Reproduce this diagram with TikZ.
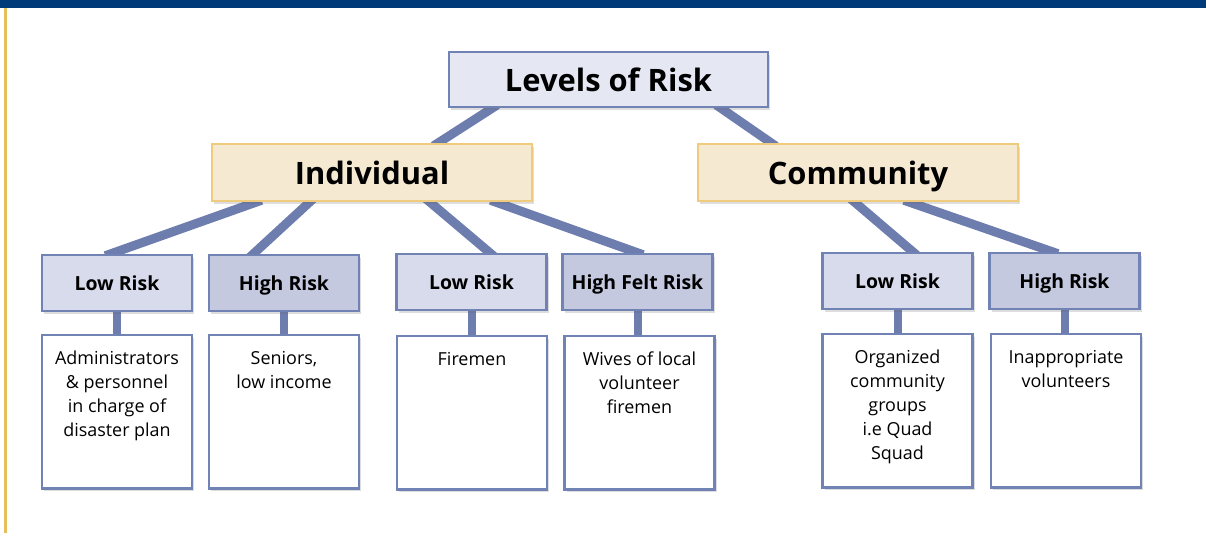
\documentclass[tikz,border=0pt]{standalone}
\usepackage{fontspec}
\setmainfont{Open Sans}
\usetikzlibrary{calc,shadows}
\definecolor{topbar}{HTML}{003A78}
\definecolor{goldline}{HTML}{E6BE5A}
\definecolor{conn}{HTML}{6D7DAE}
\definecolor{bluebd}{HTML}{7182B5}
\definecolor{topfill}{HTML}{E5E8F3}
\definecolor{lowfill}{HTML}{D8DBEB}
\definecolor{highfill}{HTML}{C4C9DF}
\definecolor{beige}{HTML}{F6E9D2}
\definecolor{beigebd}{HTML}{EFCB7E}
\pgfdeclarelayer{bg}
\pgfsetlayers{bg,main}
\tikzset{
  shad/.style={drop shadow={shadow xshift=2bp,shadow yshift=-3bp,opacity=0.22,fill=black!60}},
  topbox/.style={shad,draw=bluebd,line width=2.5bp,fill=topfill,inner sep=0pt,
    minimum width=319bp,minimum height=55bp,text height=25bp,text depth=0pt,
    font=\fontsize{31}{36}\selectfont\bfseries},
  midbox/.style={shad,draw=beigebd,line width=2.5bp,fill=beige,inner sep=0pt,
    minimum width=320bp,minimum height=57bp,text height=25bp,text depth=0pt,
    font=\fontsize{31}{36}\selectfont\bfseries},
  riskbox/.style={shad,draw=bluebd,line width=2.5bp,inner sep=0pt,
    minimum width=150bp,minimum height=56bp,text height=16bp,text depth=0pt,
    font=\fontsize{19.5}{22}\selectfont\bfseries},
  lowbox/.style={riskbox,fill=lowfill},
  highbox/.style={riskbox,fill=highfill},
  leafbox/.style={shad,draw=bluebd,line width=2.5bp,fill=white,inner sep=0pt,anchor=north,
    font=\fontsize{18}{24}\selectfont},
  link/.style={draw=conn,line width=9bp,shorten <=-6bp,shorten >=-6bp},
  stub/.style={draw=conn,line width=8bp}
}
\newcommand\leaftext[1]{\parbox[t][153bp][t]{150bp}{\centering\vspace*{16bp}#1}}
\begin{document}
\begin{tikzpicture}[x=1bp,y=-1bp]
\useasboundingbox (0,0) rectangle (1206,533);
\fill[topbar] (0,0) rectangle (1206,8);
\fill[goldline] (4,8) rectangle (6.5,533);

\node[topbox] (lev) at (608.5,79.5) {Levels of Risk};
\node[midbox] (ind) at (372,172.5) {Individual};
\node[midbox] (com) at (858,172.5) {Community};

\node[lowbox]  (r1) at (117,283) {Low Risk};
\node[highbox] (r2) at (284,283) {High Risk};
\node[lowbox]  (r3) at (471.5,282) {Low Risk};
\node[highbox] (r4) at (637.5,282) {High Felt Risk};
\node[lowbox]  (r5) at (897.5,281) {Low Risk};
\node[highbox] (r6) at (1064.5,281) {High Risk};

\node[leafbox] (l1) at (117,334) {\leaftext{Administrators\\ \& personnel\\ in charge of\\ disaster plan}};
\node[leafbox] (l2) at (284,334) {\leaftext{Seniors,\\ low income}};
\node[leafbox] (l3) at (472,335) {\leaftext{Firemen}};
\node[leafbox] (l4) at (639.5,335) {\leaftext{Wives of local\\ volunteer\\ firemen}};
\node[leafbox] (l5) at (897.5,333) {\leaftext{Organized\\ community\\ groups\\ i.e Quad\\ Squad}};
\node[leafbox] (l6) at (1066,333) {\leaftext{Inappropriate\\ volunteers}};

\begin{pgfonlayer}{bg}
\draw[link] ($(lev.south west)!0.138!(lev.south east)$) -- ($(ind.north west)!0.706!(ind.north east)$);
\draw[link] ($(lev.south west)!0.85!(lev.south east)$) -- ($(com.north west)!0.23!(com.north east)$);
\draw[link] ($(ind.south west)!0.14!(ind.south east)$) -- ($(r1.north west)!0.46!(r1.north east)$);
\draw[link] ($(ind.south west)!0.306!(ind.south east)$) -- ($(r2.north west)!0.30!(r2.north east)$);
\draw[link] ($(ind.south west)!0.68!(ind.south east)$) -- ($(r3.north west)!0.62!(r3.north east)$);
\draw[link] ($(ind.south west)!0.885!(ind.south east)$) -- ($(r4.north west)!0.50!(r4.north east)$);
\draw[link] ($(com.south west)!0.49!(com.south east)$) -- ($(r5.north west)!0.60!(r5.north east)$);
\draw[link] ($(com.south west)!0.66!(com.south east)$) -- ($(r6.north west)!0.42!(r6.north east)$);
\draw[stub] (r1.south) -- (r1.south |- l1.north);
\draw[stub] (r2.south) -- (r2.south |- l2.north);
\draw[stub] (r3.south) -- (r3.south |- l3.north);
\draw[stub] (r4.south) -- (r4.south |- l4.north);
\draw[stub] (r5.south) -- (r5.south |- l5.north);
\draw[stub] (r6.south) -- (r6.south |- l6.north);
\end{pgfonlayer}
\end{tikzpicture}
\end{document}
